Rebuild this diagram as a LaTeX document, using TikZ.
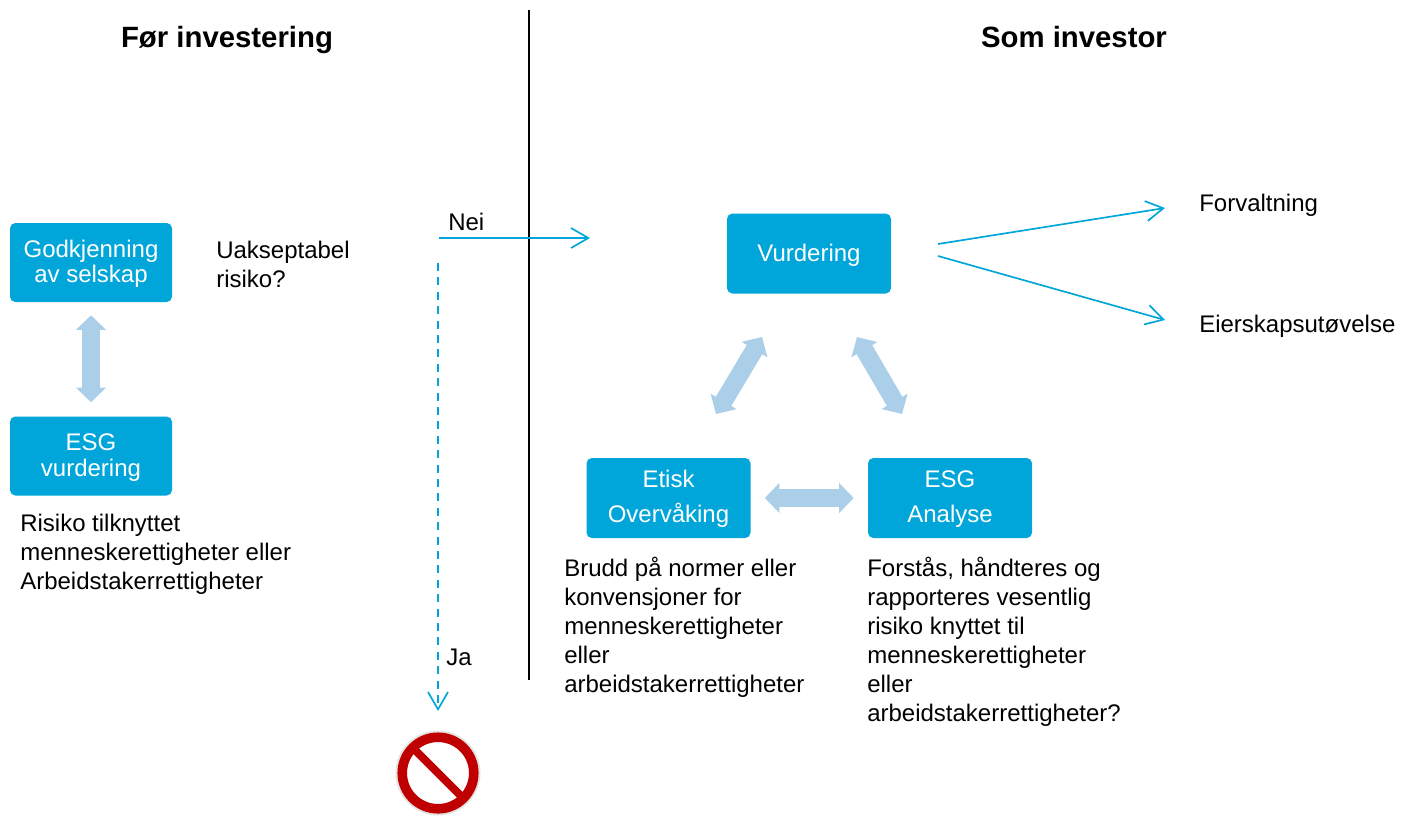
\documentclass[tikz,border=0pt]{standalone}
\usepackage{fontspec}
\setmainfont{Liberation Sans}
\usetikzlibrary{arrows.meta}
\definecolor{boxblue}{HTML}{00A6D9}
\definecolor{paleblue}{HTML}{ABCFE8}
\definecolor{signred}{HTML}{C00000}
\newcommand{\bxl}[2][5.6pt]{\raisebox{-#1}[0pt][0pt]{#2}}
\tikzset{
  bluebox/.style={rectangle,rounded corners=4pt,fill=boxblue,text=white,inner sep=0pt,
    minimum width=121.5pt,minimum height=59.25pt,align=center,font=\fontsize{18}{19}\selectfont},
  bluebox2/.style={bluebox,minimum width=123pt,minimum height=60pt,font=\fontsize{18}{26}\selectfont},
  bodytext/.style={inner sep=0pt,align=left,anchor=west,font=\fontsize{18}{21.7}\selectfont},
  title/.style={inner sep=0pt,anchor=base,font=\fontsize{22}{26}\selectfont\bfseries},
  blockarrow/.style={paleblue,line width=13.5pt,{Triangle[width=22pt,length=11pt]}-{Triangle[width=22pt,length=11pt]}},
  thinarrow/.style={boxblue,line width=1.25pt,-{Straight Barb[width=15pt,length=13pt,line width=1.25pt]}},
}
\begin{document}
\begin{tikzpicture}[x=0.75pt,y=-0.75pt]
\useasboundingbox (0,0) rectangle (1401,815);
% titles
\node[title] (t1) at (227,47) {Før investering};
\node[title] (t2) at (1074,47) {Som investor};
% divider
\coordinate (d1) at (529,10);
\coordinate (d2) at (529,680);
\draw[black,line width=1.9pt] (d1) -- (d2);
% boxes
\node[bluebox] (god) at (91,262.5) {\bxl{Godkjenning}\\\bxl{av selskap}};
\node[bluebox] (esgv) at (91,456) {\bxl{ESG}\\\bxl{vurdering}};
\node[bluebox2] (vur) at (809,253.5) {\bxl[6pt]{Vurdering}};
\node[bluebox2] (eti) at (668.5,498) {\bxl[5.1pt]{Etisk}\\\bxl[5.1pt]{Overvåking}};
\node[bluebox2] (ana) at (950,498) {\bxl[5.1pt]{ESG}\\\bxl[5.1pt]{Analyse}};
% block arrows
\draw[blockarrow,shorten <=9.75pt,shorten >=10.5pt] (god) -- (esgv);
\draw[blockarrow,shorten <=10.5pt,shorten >=10.5pt] (eti) -- (ana);
\coordinate (a1) at (762,337);
\coordinate (a2) at (716,414);
\coordinate (b1) at (857,337);
\coordinate (b2) at (902,414);
\draw[blockarrow] (a1) -- (a2);
\draw[blockarrow] (b1) -- (b2);
% texts
\node[bodytext] (ua) at (216,264) {Uakseptabel\\risiko?};
\node[bodytext] (ri) at (20,554) {Risiko tilknyttet\\menneskerettigheter eller\\Arbeidstakerrettigheter};
\node[bodytext] (br) at (564,627.5) {Brudd på normer eller\\konvensjoner for\\menneskerettigheter\\eller\\arbeidstakerrettigheter};
\node[bodytext] (fo) at (867,642) {Forstås, håndteres og\\rapporteres vesentlig\\risiko knyttet til\\menneskerettigheter\\eller\\arbeidstakerrettigheter?};
\node[bodytext] (fv) at (1199,205) {Forvaltning};
\node[bodytext] (ei) at (1199,326) {Eierskapsutøvelse};
\node[bodytext] (nei) at (448,222) {Nei};
\node[bodytext] (ja) at (446,657) {Ja};
% thin arrows
\coordinate (n1) at (439,238);
\coordinate (n2) at (590,238);
\draw[thinarrow] (n1) -- (n2);
\coordinate (j1) at (438,263);
\coordinate (j2) at (438,711);
\draw[thinarrow,dash pattern=on 6pt off 4.8pt] (j1) -- (j2);
\coordinate (f1) at (938,244);
\coordinate (f2) at (1165,208);
\draw[thinarrow] (f1) -- (f2);
\coordinate (e1) at (938,256);
\coordinate (e2) at (1165,320);
\draw[thinarrow] (e1) -- (e2);
% prohibition sign
\coordinate (s) at (438,773);
\fill[gray!22] (s) circle[radius=42.5];
\fill[white] (s) circle[radius=32];
\draw[signred,line width=7.2pt] (s) circle[radius=35.75];
\draw[signred,line width=6pt] ([shift={(-23,-23)}]s) -- ([shift={(23,23)}]s);
\end{tikzpicture}
\end{document}
